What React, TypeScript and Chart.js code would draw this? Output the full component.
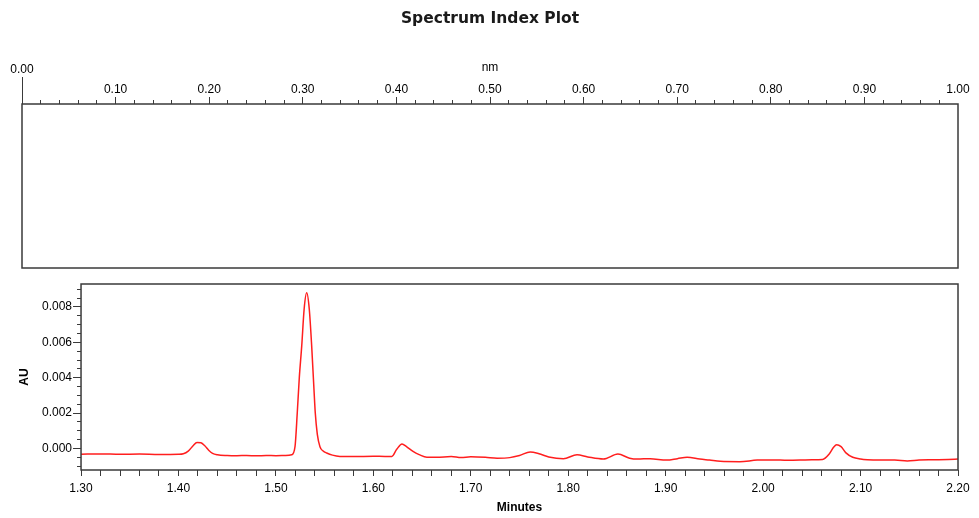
import React, { useEffect, useRef } from "react";
import { Chart, registerables } from "chart.js";

Chart.register(...registerables);

// ---------- data ----------
const chartTitle = "Spectrum Index Plot";
const topAxisTitle = "nm";
const bottomAxisTitle = "Minutes";
const yAxisTitle = "AU";

const nmMin = 0;
const nmMax = 1;
const minutesMin = 1.3;
const minutesMax = 2.2;
const auMin = -0.00122;
const auMax = 0.0093;

const timesMin = [
  1.3, 1.32, 1.34, 1.36, 1.38, 1.4, 1.405, 1.41, 1.415, 1.419, 1.423, 1.427,
  1.431, 1.435, 1.44, 1.45, 1.46, 1.47, 1.48, 1.49, 1.5, 1.51, 1.5162, 1.5196,
  1.5219, 1.524, 1.5265, 1.529, 1.5316, 1.5342, 1.5367, 1.539, 1.5404, 1.5425,
  1.5452, 1.5485, 1.5521, 1.558, 1.5657, 1.58, 1.6, 1.612, 1.619, 1.624,
  1.6294, 1.634, 1.6407, 1.647, 1.655, 1.665, 1.68, 1.69, 1.7, 1.715, 1.727,
  1.74, 1.75, 1.761, 1.77, 1.78, 1.795, 1.809, 1.82, 1.836, 1.851, 1.863,
  1.871, 1.884, 1.901, 1.912, 1.922, 1.935, 1.945, 1.956, 1.976, 1.994, 2.01,
  2.025, 2.038, 2.05, 2.061, 2.068, 2.0725, 2.0755, 2.08, 2.085, 2.092, 2.1,
  2.107, 2.12, 2.135, 2.148, 2.16, 2.175, 2.19, 2.2,
];

const absorbanceAU = [
  -0.00033, -0.00031, -0.00033, -0.00032, -0.00034, -0.00033, -0.0003,
  -0.00015, 0.00015, 0.00034, 0.00032, 0.00015, -0.0001, -0.00028, -0.00036,
  -0.0004, -0.00041, -0.0004, -0.00042, -0.0004, -0.00041, -0.0004, -0.00036,
  0.0001, 0.002, 0.004, 0.0058, 0.0079, 0.0088, 0.0079, 0.0058, 0.0034,
  0.002, 0.0008, 0.0001, -0.00015, -0.00026, -0.00038, -0.00045, -0.00046,
  -0.00044, -0.00045, -0.00045, -0.00005, 0.00025, 0.0001, -0.00017,
  -0.00035, -0.0005, -0.0005, -0.00046, -0.00052, -0.00047, -0.0005,
  -0.00055, -0.00052, -0.0004, -0.0002, -0.0003, -0.00048, -0.00058,
  -0.00036, -0.00048, -0.0006, -0.00032, -0.00055, -0.0006, -0.00058,
  -0.00066, -0.00058, -0.0005, -0.0006, -0.00066, -0.00073, -0.00075,
  -0.00066, -0.00065, -0.00067, -0.00066, -0.00064, -0.00062, -0.0003,
  0.00008, 0.00021, 0.0001, -0.00025, -0.0005, -0.0006, -0.00064, -0.00066,
  -0.00066, -0.00071, -0.00066, -0.00064, -0.00062, -0.0006,
];

// ---------- styling ----------
const FONT = "'Liberation Sans', Arial, sans-serif";
const FRAME = "#3a3a3a";
const TEXT = "#000";

const framePlugin = {
  id: "frame",
  afterDraw(chart: any) {
    const { ctx, chartArea } = chart;
    const { left, top, right, bottom } = chartArea;
    ctx.save();
    ctx.strokeStyle = FRAME;
    ctx.lineWidth = 1.5;
    ctx.strokeRect(left, top, right - left, bottom - top);
    ctx.restore();
  },
};

export default function App() {
  const topRef = useRef<HTMLCanvasElement | null>(null);
  const botRef = useRef<HTMLCanvasElement | null>(null);

  useEffect(() => {
    const topChart = new Chart(topRef.current as HTMLCanvasElement, {
      type: "line",
      data: { datasets: [] },
      plugins: [framePlugin],
      options: {
        animation: false,
        responsive: false,
        layout: { padding: { left: 22, right: 21, top: 0, bottom: 7 } },
        plugins: {
          legend: { display: false },
          tooltip: { enabled: false },
          title: {
            display: true,
            text: chartTitle,
            color: "#1a1a1a",
            font: { family: "'DejaVu Sans', sans-serif", size: 15.5, weight: "bold" },
            padding: { top: 9.7, bottom: 29.7 },
          },
        },
        scales: {
          x: {
            type: "linear",
            position: "top",
            min: nmMin,
            max: nmMax,
            border: { display: false },
            grid: {
              drawOnChartArea: false,
              drawTicks: true,
              tickLength: 27,
              color: FRAME,
              tickColor: FRAME,
              tickWidth: 1,
              tickBorderDash: (ctx: any) => {
                const v = ctx.tick ? ctx.tick.value : 0.01;
                const k = Math.round(v * 100);
                if (k === 0) return [];
                if (k === 100) return [0, 100];
                if (k % 10 === 0) return [0, 20, 7, 100];
                return [0, 23, 4, 100];
              },
            } as any,
            ticks: {
              stepSize: 0.02,
              autoSkip: false,
              maxRotation: 0,
              padding: -23,
              color: TEXT,
              font: { family: FONT, size: 12, lineHeight: 20 / 12 },
              callback: (value: any) => {
                const k = Math.round(Number(value) * 100);
                if (k === 0) return ["0.00", ""];
                return k % 10 === 0 ? (k / 100).toFixed(2) : "";
              },
            },
            title: {
              display: true,
              text: topAxisTitle,
              color: TEXT,
              font: { family: FONT, size: 12 },
              padding: { top: 2.8, bottom: 7.8 },
            },
          },
          y: { display: false, min: 0, max: 1 },
        },
      },
    } as any);

    const points = timesMin.map((t, i) => ({ x: t, y: absorbanceAU[i] }));

    const botChart = new Chart(botRef.current as HTMLCanvasElement, {
      type: "line",
      data: {
        datasets: [
          {
            data: points,
            borderColor: "rgb(255, 30, 30)",
            borderWidth: 1.5,
            pointRadius: 0,
            cubicInterpolationMode: "monotone",
            fill: false,
          },
        ],
      },
      plugins: [framePlugin],
      options: {
        animation: false,
        responsive: false,
        layout: { padding: { left: 15.8, right: 21, top: 9, bottom: 0 } },
        plugins: {
          legend: { display: false },
          tooltip: { enabled: false },
        },
        scales: {
          x: {
            type: "linear",
            min: minutesMin,
            max: minutesMax,
            border: { display: false },
            grid: {
              drawOnChartArea: false,
              tickLength: 6,
              color: FRAME,
              tickColor: FRAME,
            },
            ticks: {
              stepSize: 0.02,
              autoSkip: false,
              maxRotation: 0,
              padding: 5.8,
              color: TEXT,
              font: { family: FONT, size: 12 },
              callback: (value: any) => {
                const k = Math.round(Number(value) * 100);
                return k % 10 === 0 ? (k / 100).toFixed(2) : "";
              },
            },
            title: {
              display: true,
              text: bottomAxisTitle,
              color: TEXT,
              font: { family: FONT, size: 12, weight: "bold" },
              padding: { top: -1.2, bottom: 2.8 },
            },
          },
          y: {
            min: auMin,
            max: auMax,
            border: { display: false },
            grid: {
              drawOnChartArea: false,
              tickLength: 8,
              color: FRAME,
              tickColor: FRAME,
              tickBorderDash: (ctx: any) => {
                const v = ctx.tick ? ctx.tick.value : 0.0001;
                const k = Math.round(v * 10000);
                return k % 20 === 0 ? [] : [0, 4, 4, 100];
              },
            } as any,
            ticks: {
              stepSize: 0.0005,
              autoSkip: false,
              includeBounds: false,
              padding: 1,
              color: TEXT,
              font: { family: FONT, size: 12 },
              callback: (value: any) => {
                const k = Math.round(Number(value) * 10000);
                return k % 20 === 0 ? (k / 10000).toFixed(3) : "";
              },
            },
            title: {
              display: true,
              text: yAxisTitle,
              color: TEXT,
              font: { family: FONT, size: 12, weight: "bold" },
              padding: { top: 2, bottom: 8.8 },
            },
          },
        },
      },
    } as any);

    return () => {
      topChart.destroy();
      botChart.destroy();
    };
  }, []);

  return (
    <div style={{ position: "absolute", left: 0, top: 0, width: 979, height: 518, background: "#fff" }}>
      <canvas
        ref={topRef}
        width={979}
        height={275}
        style={{ position: "absolute", left: 0, top: 0, width: 979, height: 275, display: "block" }}
      />
      <canvas
        ref={botRef}
        width={979}
        height={243}
        style={{ position: "absolute", left: 0, top: 275, width: 979, height: 243, display: "block" }}
      />
    </div>
  );
}
